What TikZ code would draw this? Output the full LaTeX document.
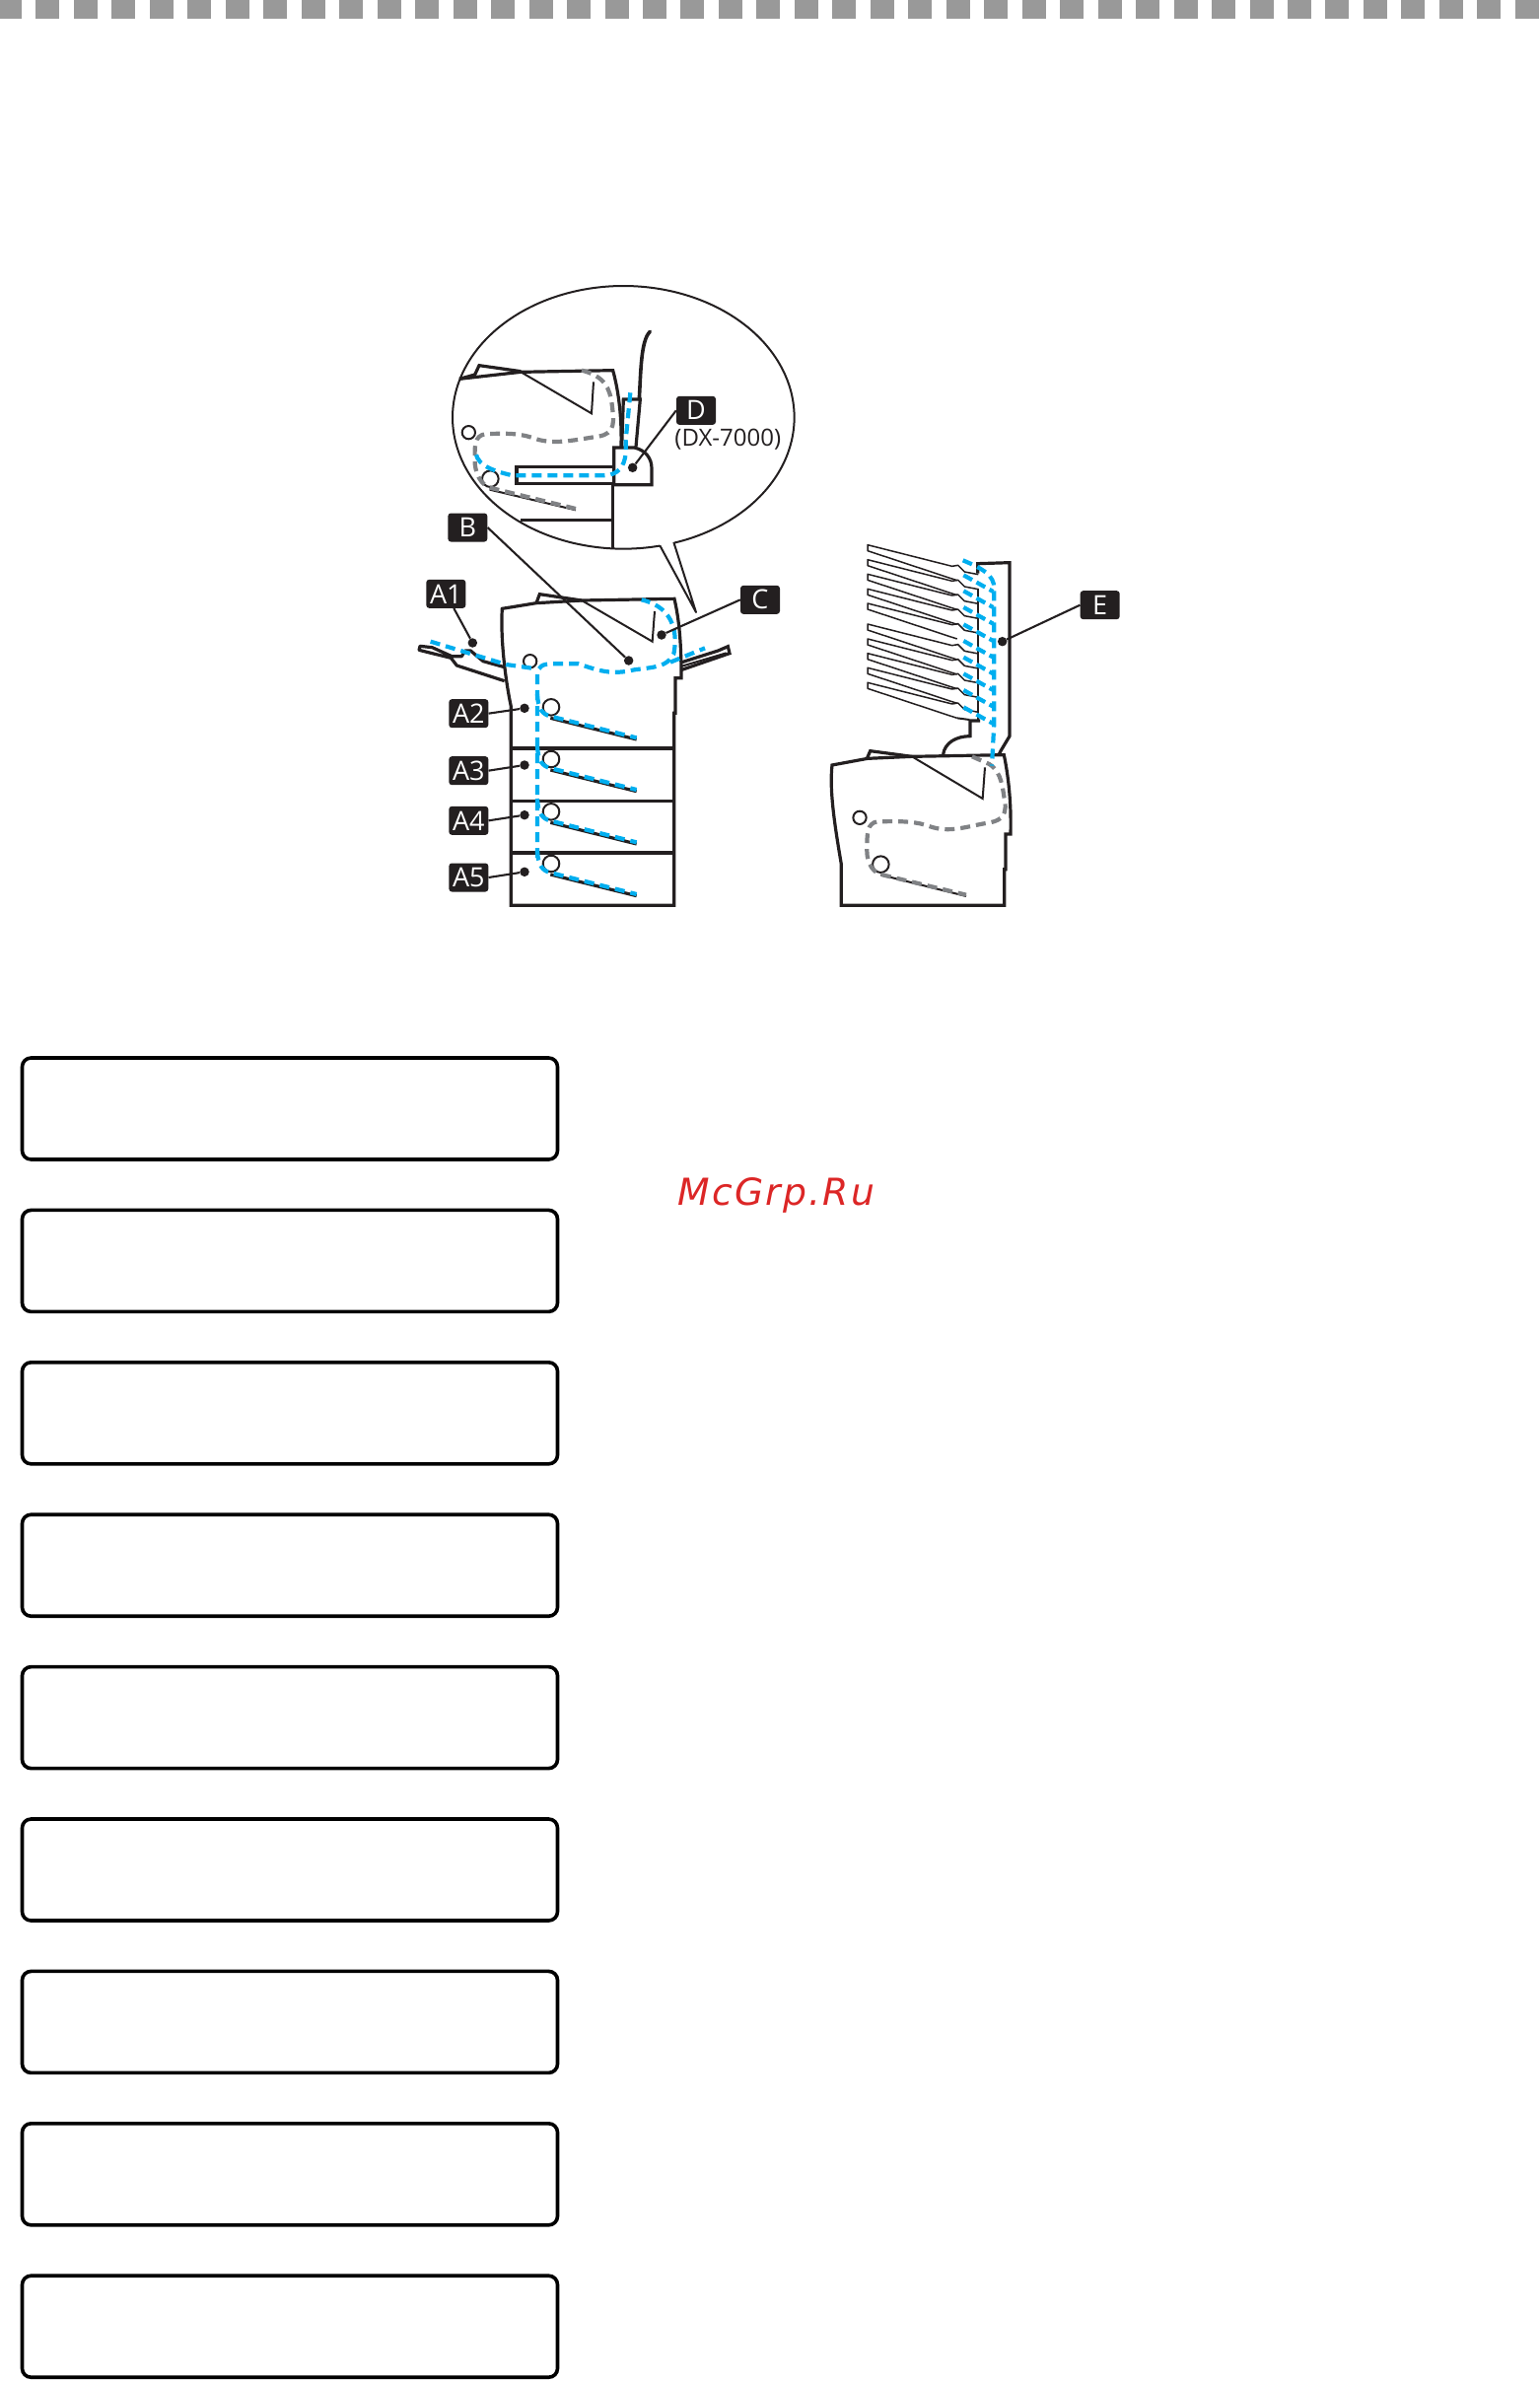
\documentclass[tikz,border=0pt]{standalone}
\usepackage{fontspec}
\setmainfont{Open Sans}
\newfontfamily\wmfont[LetterSpace=6]{DejaVu Sans Oblique}
\definecolor{pathblue}{HTML}{00AEEF}
\definecolor{pathgray}{HTML}{808285}
\definecolor{inkblack}{HTML}{231F20}
\definecolor{stripgray}{HTML}{999999}
\definecolor{wmred}{HTML}{DC2626}
\tikzset{
  thickline/.style={draw=inkblack,line width=3.2pt,line join=miter},
  thinline/.style={draw=inkblack,line width=2pt,line join=miter},
  bluepath/.style={draw=pathblue,line width=4.2pt,dash pattern=on 10pt off 6pt},
  graypath/.style={draw=pathgray,line width=4.2pt,dash pattern=on 10pt off 6pt},
  roller/.style={draw=inkblack,line width=2pt,fill=none,circle,inner sep=0pt},
  tag/.style={fill=inkblack,text=white,rounded corners=3pt,minimum width=40pt,minimum height=29pt,inner sep=0pt,font=\fontsize{27}{27}\selectfont},
  spot/.style={circle,fill=inkblack,minimum size=9.5pt,inner sep=0pt},
  leader/.style={draw=inkblack,line width=2.1pt},
  panel/.style={draw=black,line width=3.6pt,rounded corners=9pt,minimum width=543pt,minimum height=103pt,inner sep=0pt},
  zoomA/.style={shift={(400,270)},x=0.33333pt,y=-0.33333pt},
  zoomB/.style={shift={(400,560)},x=0.33333pt,y=-0.33333pt},
  zoomC/.style={shift={(820,530)},x=0.33333pt,y=-0.33333pt},
}
\begin{document}
\begin{tikzpicture}[x=1pt,y=-1pt]
\useasboundingbox (0,0) rectangle (1561,2416);
% top strip
\foreach \i in {0,...,40}
  \fill[stripgray] ({-2+38.47*\i},0) rectangle ++(24,19);
% panels
\foreach \i in {0,...,8}
  \node[panel] (panel\i) at (294,{1124.5+154.4*\i}) {};
% watermark
\node[anchor=base west,inner sep=0pt,text=wmred,font=\fontsize{37.7}{38}\wmfont] (wm) at (687,1222) {McGrp.Ru};

% ---------- callout ----------
\begin{scope}[zoomA]
\draw[thinline,line join=round] (850,840) -- (918,1053) -- (808,850)
  plot[domain=-282.3:72.8,samples=120,smooth] ({697+520*cos(\x)},{460+400*sin(\x)});
\draw[thickline] (198,343) -- (385,322) -- (665,317) .. controls (685,390) and (692,470) .. (690,550);
\draw[thickline] (198,343) -- (245,330) -- (258,302) -- (385,320);
\draw[thinline] (385,322) -- (600,448) -- (606,352);
\draw[thickline] (692,550) -- (697,405) -- (748,405) -- (735,550);
\draw[thickline,line width=3.6pt,line cap=round] (745,405) .. controls (750,320) and (750,225) .. (778,199);
\draw[thickline] (668,552) -- (730,552) .. controls (765,560) and (783,585) .. (783,615) -- (783,665) -- (668,665) -- cycle;
\draw[thickline] (372,610) rectangle (668,662);
\draw[thickline] (665,665) -- (665,858);
\draw[thickline] (385,773) -- (665,773);
\draw[thinline] (290,680) -- (552,742);
\node[roller,minimum size=13.3pt] (ra1) at (226,506) {};
\node[roller,minimum size=16.6pt] (ra2) at (292,647) {};
\draw[graypath] (570,317) .. controls (640,335) and (655,370) .. (662,420) .. controls (668,470) and (675,510) .. (620,518)
  .. controls (540,530) and (480,545) .. (420,522) .. controls (370,505) and (320,510) .. (280,510)
  .. controls (240,515) and (245,550) .. (245,600) .. controls (250,650) and (275,670) .. (295,675) -- (552,738);
\draw[bluepath] (718,385) -- (704,530) -- (704,570) .. controls (700,610) and (680,635) .. (640,637) -- (360,637) .. controls (310,625) and (255,610) .. (248,570);
\node[tag] (tD) at (918,439) {D};
\node[inner sep=0pt,text=inkblack,font=\fontsize{24}{24}\selectfont] (tDX) at (1015,528) {(DX-7000)};
\node[spot] (sD) at (725,613) {};
\draw[leader] (tD.west) -- (sD);
\end{scope}

% ---------- main printer ----------
\begin{scope}[zoomB]
\draw[thickline] (328,172) -- (432,155) -- (570,147) -- (852,142) .. controls (870,220) and (873,300) .. (873,383) -- (855,383) -- (855,490) -- (851,490) -- (851,1075) -- (355,1075) -- (355,470) .. controls (340,400) and (322,270) .. (328,172) -- cycle;
\draw[thickline] (432,155) -- (442,128) -- (570,147);
\draw[thinline] (570,147) -- (785,272) -- (792,180);
\foreach \yy in {597,757,915}
  \draw[thickline] (355,\yy) -- (851,\yy);
% side trays
\draw[thickline,line join=round] (335,350) -- (270,332) -- (232,300) -- (215,300) -- (205,317) -- (175,317) -- (115,290) -- (78,286) -- (75,298) -- (172,322) -- (190,345) -- (335,392);
\draw[thickline] (875,335) -- (985,300) -- (1015,287) -- (1020,308) -- (875,358);
\draw[thinline] (875,347) -- (1010,307);
\node[roller,minimum size=13.3pt] (rb0) at (413,332) {};
\foreach \n/\yy in {1/472,2/630,3/790,4/948}{
  \node[roller,minimum size=16.6pt] (rb\n) at (477,\yy) {};
  \draw[thickline] (475,{\yy+33}) -- (737,{\yy+98});
  \draw[bluepath] (435,{\yy-40}) .. controls (437,{\yy+5}) and (450,{\yy+22}) .. (477,{\yy+28}) -- (737,{\yy+93});
}
\draw[bluepath] (110,272) -- (340,342) -- (432,355);
\draw[bluepath] (435,930) -- (435,375) .. controls (435,345) and (455,340) .. (480,340) -- (560,340) .. controls (620,360) and (660,375) .. (730,358) .. controls (790,350) and (830,350) .. (850,310) .. controls (860,260) and (860,170) .. (752,145);
\draw[bluepath] (840,335) -- (945,292);
\node[tag] (tA1) at (157,127) {A1};
\node[tag] (tA2) at (226,491) {A2};
\node[tag] (tA3) at (226,665) {A3};
\node[tag] (tA4) at (226,817) {A4};
\node[tag] (tA5) at (226,990) {A5};
\node[tag] (tC) at (1113,145) {C};
\node[spot] (sA1) at (238,276) {};
\node[spot] (sA2) at (396,475) {};
\node[spot] (sA3) at (396,648) {};
\node[spot] (sA4) at (396,800) {};
\node[spot] (sA5) at (396,973) {};
\node[spot] (sB) at (713,330) {};
\node[spot] (sC) at (813,252) {};
\draw[leader] (tA1) -- (sA1);
\foreach \n in {2,3,4,5}
  \draw[leader] (tA\n.east) -- (sA\n);
\draw[leader] (tC.west) -- (sC);
\end{scope}
\node[tag] (tB) at ({400+223/3},{270+795/3}) {B};
\draw[leader] (tB.east) -- (sB);

% ---------- printer with mailbox ----------
\begin{scope}[zoomC]
\draw[thickline] (72,738) -- (180,718) -- (315,712) -- (595,707) .. controls (612,790) and (617,870) .. (615,948) -- (600,948) -- (600,1055) -- (596,1055) -- (596,1165) -- (100,1165) -- (100,1040) .. controls (85,950) and (62,820) .. (72,738) -- cycle;
\draw[thickline] (178,718) -- (188,695) -- (315,712);
\draw[thinline] (315,712) -- (530,840) -- (537,745);
\node[roller,minimum size=13.3pt] (rc1) at (156,898) {};
\node[roller,minimum size=16.6pt] (rc2) at (220,1040) {};
\draw[thinline] (220,1072) -- (480,1137);
\draw[graypath] (498,712) -- (550,735) .. controls (590,760) and (590,810) .. (598,850) .. controls (605,900) and (575,910) .. (540,915) .. controls (480,925) and (430,945) .. (370,925) .. controls (330,910) and (290,908) .. (210,910) .. controls (178,915) and (178,945) .. (178,1000) .. controls (178,1040) and (200,1068) .. (225,1072) -- (480,1133);
% finisher body
\draw[thickline] (515,155) -- (515,125) -- (612,122) -- (612,650) -- (585,695) -- (580,705);
\draw[thickline] (410,705) .. controls (415,670) and (450,650) .. (492,650) -- (492,603) -- (522,603);
\draw[thinline] (517,200) -- (517,600);
\foreach \yy in {68,113,157,202,246,309,354,398,442,487}{
  \draw[draw=inkblack,line width=1.5pt,line join=round] (517,{\yy+90}) -- (475,{\yy+82}) -- (455,{\yy+62}) -- (437,{\yy+65}) -- (180,\yy) -- (180,{\yy+18}) -- (452,{\yy+108});
}
\draw[thinline] (452,595) -- (490,600);
\foreach \yy in {160,208,258,310,360,410,460,510,562}
  \draw[bluepath,dash pattern=on 10pt off 5pt] (472,\yy) -- (562,{\yy+50});
\draw[bluepath] (470,115) .. controls (530,140) and (565,160) .. (565,200) -- (565,610) -- (558,740);
\node[tag] (tE) at (887,251) {E};
\node[spot] (sE) at (590,362) {};
\draw[leader] (tE.west) -- (sE);
\end{scope}
\end{tikzpicture}
\end{document}
